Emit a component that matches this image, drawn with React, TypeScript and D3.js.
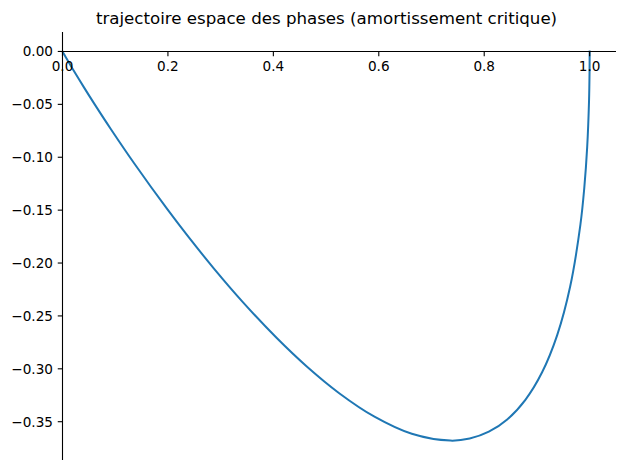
import React from "react";
import * as d3 from "d3";

const posX: number[] = [
  1.0, 0.9998, 0.99879, 0.99532, 0.98981, 0.98248, 0.96306, 0.93845, 0.9098,
  0.8781, 0.8442, 0.80879, 0.77248, 0.73576, 0.66262, 0.59183, 0.52493,
  0.46284, 0.40601, 0.34255, 0.2873, 0.23973, 0.19915, 0.13589, 0.09158,
  0.0611, 0.04043, 0.01735, 0.0073, 0.00302, 0.0005,
];
const velY: number[] = [
  0.0, -0.0196, -0.04756, -0.09048, -0.12911, -0.16375, -0.22225, -0.26813,
  -0.30327, -0.32929, -0.34761, -0.35946, -0.36591, -0.36788, -0.36143,
  -0.34524, -0.32304, -0.29754, -0.27067, -0.23715, -0.20521, -0.1758,
  -0.14936, -0.10569, -0.07326, -0.05, -0.03369, -0.01487, -0.00638,
  -0.00268, -0.00045,
];
const xTicks: number[] = [0.0, 0.2, 0.4, 0.6, 0.8, 1.0];
const xTickLabels: string[] = ["0.0", "0.2", "0.4", "0.6", "0.8", "1.0"];
const yTicks: number[] = [0.0, -0.05, -0.1, -0.15, -0.2, -0.25, -0.3, -0.35];
const yTickLabels: string[] = [
  "0.00", "−0.05", "−0.10", "−0.15", "−0.20", "−0.25", "−0.30", "−0.35",
];
const title = "trajectoire espace des phases (amortissement critique)";

export default function App() {
  const W = 626;
  const H = 470;
  const x = d3.scaleLinear().domain([0, 1.05]).range([62.5, 616]);
  const y = d3.scaleLinear().domain([0.0184, -0.3862]).range([32, 460]);
  const pts: [number, number][] = posX.map((v, i) => [v, velY[i]]);
  const line = d3
    .line<[number, number]>()
    .x((d) => x(d[0]))
    .y((d) => y(d[1]))
    .curve(d3.curveCatmullRom.alpha(0.5));
  const font = "'DejaVu Sans', sans-serif";
  const tickLen = 4.75;
  const fs = 13.6;
  const x0 = x(0);
  const y0 = y(0);
  return (
    <svg
      width={W}
      height={H}
      style={{ position: "absolute", left: 0, top: 0, background: "#fff" }}
    >
      <rect width={W} height={H} fill="#fff" />
      <text
        x={326.5}
        y={24}
        textAnchor="middle"
        fontFamily={font}
        fontSize={16.65}
        fill="#000"
      >
        {title}
      </text>
      <path
        d={line(pts) || ""}
        fill="none"
        stroke="#1f77b4"
        strokeWidth={2}
        strokeLinejoin="round"
        strokeLinecap="square"
      />
      <line x1={x0} x2={x0} y1={32} y2={460} stroke="#000" strokeWidth={1.1} />
      <line x1={x0} x2={616} y1={y0} y2={y0} stroke="#000" strokeWidth={1.1} />
      {xTicks.map((t, i) => (
        <g key={"xt" + i}>
          <line
            x1={x(t)}
            x2={x(t)}
            y1={y0}
            y2={y0 + tickLen}
            stroke="#000"
            strokeWidth={1.1}
          />
          <text
            x={x(t)}
            y={y0 + tickLen + 4.75 + 10.2}
            textAnchor="middle"
            fontFamily={font}
            fontSize={fs}
            fill="#000"
          >
            {xTickLabels[i]}
          </text>
        </g>
      ))}
      {yTicks.map((t, i) => (
        <g key={"yt" + i}>
          <line
            x1={x0 - tickLen}
            x2={x0}
            y1={y(t)}
            y2={y(t)}
            stroke="#000"
            strokeWidth={1.1}
          />
          <text
            x={x0 - tickLen - 4.75}
            y={y(t) + 5}
            textAnchor="end"
            fontFamily={font}
            fontSize={fs}
            fill="#000"
          >
            {yTickLabels[i]}
          </text>
        </g>
      ))}
    </svg>
  );
}
